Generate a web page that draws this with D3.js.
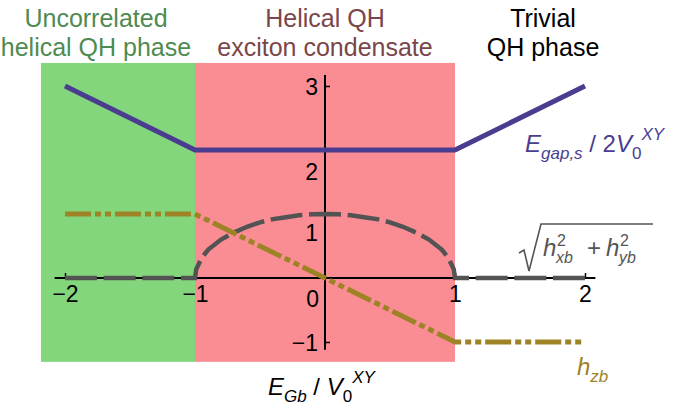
<!DOCTYPE html>
<html><head><meta charset="utf-8">
<script src="https://cdn.jsdelivr.net/npm/d3@7"></script>
<style>
html,body{margin:0;padding:0;background:#fff;}
svg{display:block;font-family:"Liberation Sans",Arial,Helvetica,sans-serif;}
</style></head>
<body>
<script>
// ---- data ----
const phaseBounds = [-1, 1];            // phase boundaries (x)
const xTicks = [-2, -1, 1, 2];
const yTicks = [-1, 1, 2, 3];
const gapX = [-2, -1, 1, 2];            // E_gap,s / 2V0^XY
const gapY = [3, 2, 2, 3];
const hzX = [-2, -1, 1, 2];             // h_zb
const hzY = [1, 1, -1, -1];
const hxyX = [-2, -1, -0.99, -0.95, -0.9, -0.8, -0.7, -0.6, -0.5, -0.4, -0.3, -0.2, -0.1, 0,
              0.1, 0.2, 0.3, 0.4, 0.5, 0.6, 0.7, 0.8, 0.9, 0.95, 0.99, 1, 2];
const hxyY = [0, 0, 0.14, 0.31, 0.44, 0.6, 0.71, 0.8, 0.87, 0.92, 0.95, 0.98, 0.995, 1,
              0.995, 0.98, 0.95, 0.92, 0.87, 0.8, 0.71, 0.6, 0.44, 0.31, 0.14, 0, 0];

const W = 685, H = 408;
const svg = d3.select("body").append("svg").attr("width", W).attr("height", H);

const x = d3.scaleLinear().domain([-2, 2]).range([65, 585]);
const y = d3.scaleLinear().domain([-1, 3]).range([342, 86]);

// background phases
svg.append("rect").attr("x", x(-2.185)).attr("y", y(3.36))
  .attr("width", x(phaseBounds[0]) - x(-2.185)).attr("height", y(-1.31) - y(3.36))
  .attr("fill", "#83d67b");
svg.append("rect").attr("x", x(phaseBounds[0])).attr("y", y(3.36))
  .attr("width", x(phaseBounds[1]) - x(phaseBounds[0])).attr("height", y(-1.31) - y(3.36))
  .attr("fill", "#fa8d93");

// axis lines
svg.append("line").attr("x1", x(-2.08)).attr("x2", x(2.08)).attr("y1", y(0)).attr("y2", y(0))
  .attr("stroke", "#000").attr("stroke-width", 2);
svg.append("line").attr("x1", x(0)).attr("x2", x(0)).attr("y1", y(-1.12)).attr("y2", y(3.17))
  .attr("stroke", "#000").attr("stroke-width", 2);

// x axis ticks
const xAxis = d3.axisBottom(x).tickValues(xTicks).tickSizeInner(-5).tickSizeOuter(0).tickPadding(8)
  .tickFormat(d3.format("d"));
const gx = svg.append("g").attr("transform", `translate(0,${y(0)})`).call(xAxis);
gx.select(".domain").remove();
gx.selectAll(".tick line").attr("stroke-width", 1.5);
gx.selectAll(".tick text").attr("font-size", 23).attr("font-family", "Liberation Sans, Arial, sans-serif").attr("fill", "#000");
// origin label
svg.append("text").attr("x", x(0) - 6).attr("y", y(0) + 29).attr("text-anchor", "end")
  .attr("font-size", 23).text("0");

// y axis ticks
const yAxis = d3.axisLeft(y).tickValues(yTicks).tickSizeInner(-5).tickSizeOuter(0).tickPadding(7)
  .tickFormat(d3.format("d"));
const gy = svg.append("g").attr("transform", `translate(${x(0)},0)`).call(yAxis);
gy.select(".domain").remove();
gy.selectAll(".tick line").attr("stroke-width", 1.5);
gy.selectAll(".tick text").attr("font-size", 23).attr("font-family", "Liberation Sans, Arial, sans-serif").attr("fill", "#000")
  .attr("dy", d => d === 2 ? "1.3em" : d === 1 ? "1.15em" : "0.35em");

const line = d3.line().x(d => x(d[0])).y(d => y(d[1]));

// sqrt(hxb^2 + hyb^2) dashed
const hxyPath = svg.append("path").datum(hxyX.map((v, i) => [v, hxyY[i]]))
  .attr("d", line).attr("fill", "none").attr("stroke", "#535353").attr("stroke-width", 4.5);
{
  const L = hxyPath.node().getTotalLength();
  const p = (L - 32) / 14;
  hxyPath.attr("stroke-dasharray", `32 ${p - 32}`);
}

// h_zb dash-dot-dot
svg.append("path").datum(hzX.map((v, i) => [v, hzY[i]]))
  .attr("d", line).attr("fill", "none").attr("stroke", "#9d8326").attr("stroke-width", 5)
  .attr("stroke-dasharray", "26 4 6 4 6 4");

// E_gap line
svg.append("path").datum(gapX.map((v, i) => [v, gapY[i]]))
  .attr("d", line).attr("fill", "none").attr("stroke", "#4a3d90").attr("stroke-width", 5);

// header labels
const hdr = [
  {lines: ["Uncorrelated", "helical QH phase"], cx: 96, color: "#4e8b50"},
  {lines: ["Helical QH", "exciton condensate"], cx: 325, color: "#7b4649"},
  {lines: ["Trivial", "QH phase"], cx: 543, color: "#000"}
];
hdr.forEach(h => {
  h.lines.forEach((t, i) => {
    svg.append("text").attr("x", h.cx).attr("y", 27 + i * 29).attr("text-anchor", "middle")
      .attr("font-size", 25).attr("fill", h.color).text(t);
  });
});

// x axis label: E_Gb / V_0^XY
{
  const t = svg.append("text").attr("x", 268).attr("y", 395).attr("font-size", 24).attr("fill", "#000");
  t.append("tspan").attr("font-style", "italic").text("E");
  t.append("tspan").attr("font-style", "italic").attr("font-size", 17).attr("dy", 7).text("Gb");
  t.append("tspan").attr("dy", -7).text(" / ");
  t.append("tspan").attr("font-style", "italic").text("V");
  t.append("tspan").attr("font-size", 17).attr("dy", 7).text("0");
  t.append("tspan").attr("font-style", "italic").attr("font-size", 17).attr("dy", -19).text("XY");
}

// E_gap,s / 2V_0^XY label
{
  const t = svg.append("text").attr("x", 525).attr("y", 152).attr("font-size", 24).attr("fill", "#4a3d90");
  t.append("tspan").attr("font-style", "italic").text("E");
  t.append("tspan").attr("font-style", "italic").attr("font-size", 17).attr("dy", 7).text("gap,s");
  t.append("tspan").attr("dy", -7).text(" / 2");
  t.append("tspan").attr("font-style", "italic").text("V");
  t.append("tspan").attr("font-size", 17).attr("dy", 7).text("0");
  t.append("tspan").attr("font-style", "italic").attr("font-size", 17).attr("dy", -19).text("XY");
}

// sqrt label
{
  const g = svg.append("g").attr("fill", "#555");
  g.append("path").attr("d", "M519,253 L524,250 L529,271 L541,224 L653,224")
    .attr("fill", "none").attr("stroke", "#555").attr("stroke-width", 1.6);
  g.append("text").attr("x", 543).attr("y", 256).attr("font-size", 24).attr("font-style", "italic").text("h");
  g.append("text").attr("x", 557).attr("y", 246).attr("font-size", 16).text("2");
  g.append("text").attr("x", 556).attr("y", 263).attr("font-size", 16).attr("font-style", "italic").text("xb");
  g.append("text").attr("x", 587).attr("y", 256).attr("font-size", 24).text("+");
  g.append("text").attr("x", 606).attr("y", 256).attr("font-size", 24).attr("font-style", "italic").text("h");
  g.append("text").attr("x", 620).attr("y", 246).attr("font-size", 16).text("2");
  g.append("text").attr("x", 619).attr("y", 263).attr("font-size", 16).attr("font-style", "italic").text("yb");
}

// h_zb label
{
  const t = svg.append("text").attr("x", 577).attr("y", 375).attr("font-size", 24).attr("fill", "#9d8326")
    .attr("font-style", "italic");
  t.append("tspan").text("h");
  t.append("tspan").attr("font-size", 17).attr("dy", 7).text("zb");
}
</script>
</body></html>
